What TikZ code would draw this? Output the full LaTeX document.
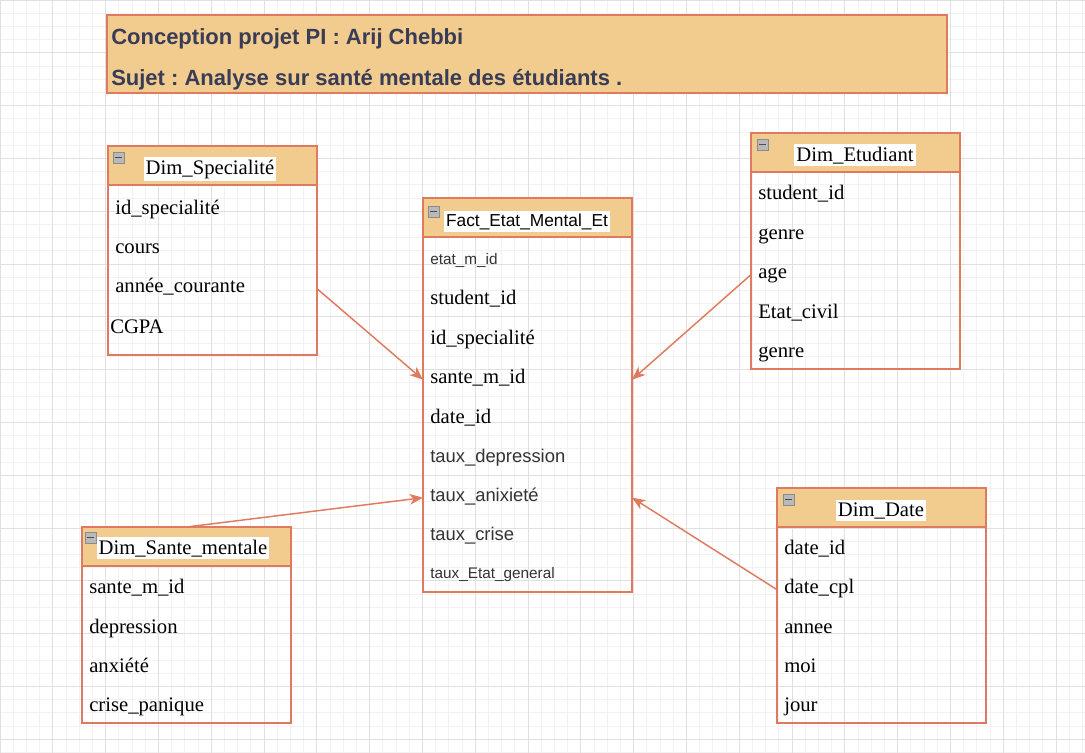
\documentclass[tikz,border=0pt]{standalone}
\usepackage{fontspec}
\setmainfont{Liberation Serif}
\newfontfamily\arialf{Liberation Sans}
\usetikzlibrary{arrows.meta,calc}
\definecolor{hdrc}{HTML}{F2CC8F}
\definecolor{edgec}{HTML}{E07A5F}
\definecolor{ttlc}{HTML}{393C56}
\definecolor{gminor}{HTML}{F2F2F2}
\definecolor{gmajor}{HTML}{E0E0E0}
\definecolor{sfc}{HTML}{333333}
\frenchspacing
\begin{document}
\begin{tikzpicture}[x=0.75pt,y=-0.75pt,
  titlebox/.style={draw=edgec, fill=hdrc, line width=1.1pt, inner sep=0, outer sep=0, anchor=north west, minimum width=630pt, minimum height=58.5pt},
  titletxt/.style={inner sep=0, anchor=base west, text=ttlc, font=\arialf\bfseries\fontsize{16.5}{19}\selectfont},
  hdrbox/.style={draw=edgec, fill=hdrc, line width=1.1pt, inner sep=0, outer sep=0, anchor=north west, minimum width=156.75pt, minimum height=29.25pt},
  bodybox/.style={draw=edgec, line width=1.1pt, inner sep=0, outer sep=0, anchor=north west, minimum width=156.75pt},
  htitle/.style={fill=white, inner xsep=1.5pt, inner ysep=2pt, anchor=base, font=\fontsize{15.5}{18}\selectfont},
  htitlesf/.style={fill=white, inner xsep=1.5pt, inner ysep=2pt, anchor=base, font=\arialf\fontsize{13}{16}\selectfont},
  fieldtxt/.style={inner sep=0, anchor=base west, text height=0.7em, text depth=0.2em, font=\fontsize{15.5}{18}\selectfont},
  fieldsf/.style={fieldtxt, text=sfc, font=\arialf\fontsize{13.8}{16}\selectfont},
  fieldsmall/.style={fieldtxt, text=sfc, font=\arialf\fontsize{11.5}{14}\selectfont},
  minusbox/.style={draw=gray!90, fill=gray!55, line width=0.5pt, minimum size=8pt, inner sep=0, anchor=north west,
    path picture={\draw[black!70, line width=1pt] ([xshift=1.5pt]path picture bounding box.west) -- ([xshift=-1.5pt]path picture bounding box.east);}},
  conn/.style={draw=edgec, line width=1.1pt, -{Stealth[length=10pt,width=8pt,inset=3pt]}}
]
\useasboundingbox (0,0) rectangle (1085,753);
\fill[white] (0,0) rectangle (1085,753);
% grid
\foreach \i in {0,...,82} \draw[gminor, line width=0.6pt] ({\i*13.2},0) -- ({\i*13.2},753);
\foreach \j in {0,...,57} \draw[gminor, line width=0.6pt] (0,{\j*13.2}) -- (1085,{\j*13.2});
\foreach \i in {0,...,20} \draw[gmajor, line width=0.6pt] ({\i*52.8},0) -- ({\i*52.8},753);
\foreach \j in {0,...,14} \draw[gmajor, line width=0.6pt] (0,{\j*52.8}) -- (1085,{\j*52.8});

% title
\node[titlebox] (title) at (107,15) {};
\node[titletxt] (t1) at (111,44) {Conception projet PI : Arij Chebbi};
\node[titletxt] (t2) at (111,85) {Sujet : Analyse sur santé mentale des étudiants .};

% Dim_Specialite
\node[hdrbox] (spec-h) at (108,146) {};
\node[bodybox, minimum height=127.5pt] (spec-b) at (spec-h.south west) {};
\node[minusbox] (spec-m) at (113,152) {};
\node[htitle] (spec-t) at (210,174) {Dim\_Specialité};
\node[fieldtxt] (spec-r1) at (115,214) {id\_specialité};
\node[fieldtxt] (spec-r2) at (115,253) {cours};
\node[fieldtxt] (spec-r3) at (115,292) {année\_courante};
\node[fieldtxt] (spec-r4) at (110,333) {CGPA};

% Fact
\node[hdrbox] (fact-h) at (423,198) {};
\node[bodybox, minimum height=266.25pt] (fact-b) at (fact-h.south west) {};
\node[minusbox] (fact-m) at (428,206) {};
\node[htitlesf] (fact-t) at (527,226) {Fact\_Etat\_Mental\_Et};
\node[fieldsmall] (fact-r1) at (430,264) {etat\_m\_id};
\node[fieldtxt] (fact-r2) at (430,304) {student\_id};
\node[fieldtxt] (fact-r3) at (430,344) {id\_specialité};
\node[fieldtxt] (fact-r4) at (430,383) {sante\_m\_id};
\node[fieldtxt] (fact-r5) at (430,423) {date\_id};
\node[fieldsf] (fact-r6) at (430,462) {taux\_depression};
\node[fieldsf] (fact-r7) at (430,501) {taux\_anixieté};
\node[fieldsf] (fact-r8) at (430,540) {taux\_crise};
\node[fieldsmall] (fact-r9) at (430,578) {taux\_Etat\_general};

% Dim_Etudiant
\node[hdrbox] (etud-h) at (751,133) {};
\node[bodybox, minimum height=147.75pt] (etud-b) at (etud-h.south west) {};
\node[minusbox] (etud-m) at (757,139) {};
\node[htitle] (etud-t) at (855,161) {Dim\_Etudiant};
\node[fieldtxt] (etud-r1) at (758,199) {student\_id};
\node[fieldtxt] (etud-r2) at (758,239) {genre};
\node[fieldtxt] (etud-r3) at (758,278) {age};
\node[fieldtxt] (etud-r4) at (758,318) {Etat\_civil};
\node[fieldtxt] (etud-r5) at (758,357) {genre};

% Dim_Sante_mentale
\node[hdrbox] (sante-h) at (82,527) {};
\node[bodybox, minimum height=117.75pt] (sante-b) at (sante-h.south west) {};
\node[minusbox] (sante-m) at (85,532) {};
\node[htitle] (sante-t) at (183,554) {Dim\_Sante\_mentale};
\node[fieldtxt] (sante-r1) at (89,593) {sante\_m\_id};
\node[fieldtxt] (sante-r2) at (89,633) {depression};
\node[fieldtxt] (sante-r3) at (89,672) {anxiété};
\node[fieldtxt] (sante-r4) at (89,711) {crise\_panique};

% Dim_Date
\node[hdrbox] (date-h) at (777,488) {};
\node[bodybox, minimum height=147pt] (date-b) at (date-h.south west) {};
\node[minusbox] (date-m) at (783,494) {};
\node[htitle] (date-t) at (881,516) {Dim\_Date};
\node[fieldtxt] (date-r1) at (784,554) {date\_id};
\node[fieldtxt] (date-r2) at (784,593) {date\_cpl};
\node[fieldtxt] (date-r3) at (784,633) {annee};
\node[fieldtxt] (date-r4) at (784,672) {moi};
\node[fieldtxt] (date-r5) at (784,711) {jour};

% connectors
\draw[conn] (spec-b.east |- spec-r3.west) -- (fact-b.west |- fact-r4.west);
\draw[conn] (etud-b.west |- etud-r3.west) -- (fact-b.east |- fact-r4.west);
\draw[conn] (sante-h.north) -- (fact-b.west |- fact-r7.west);
\draw[conn] (date-b.west |- date-r2.west) -- (fact-b.east |- fact-r7.west);
\end{tikzpicture}
\end{document}
